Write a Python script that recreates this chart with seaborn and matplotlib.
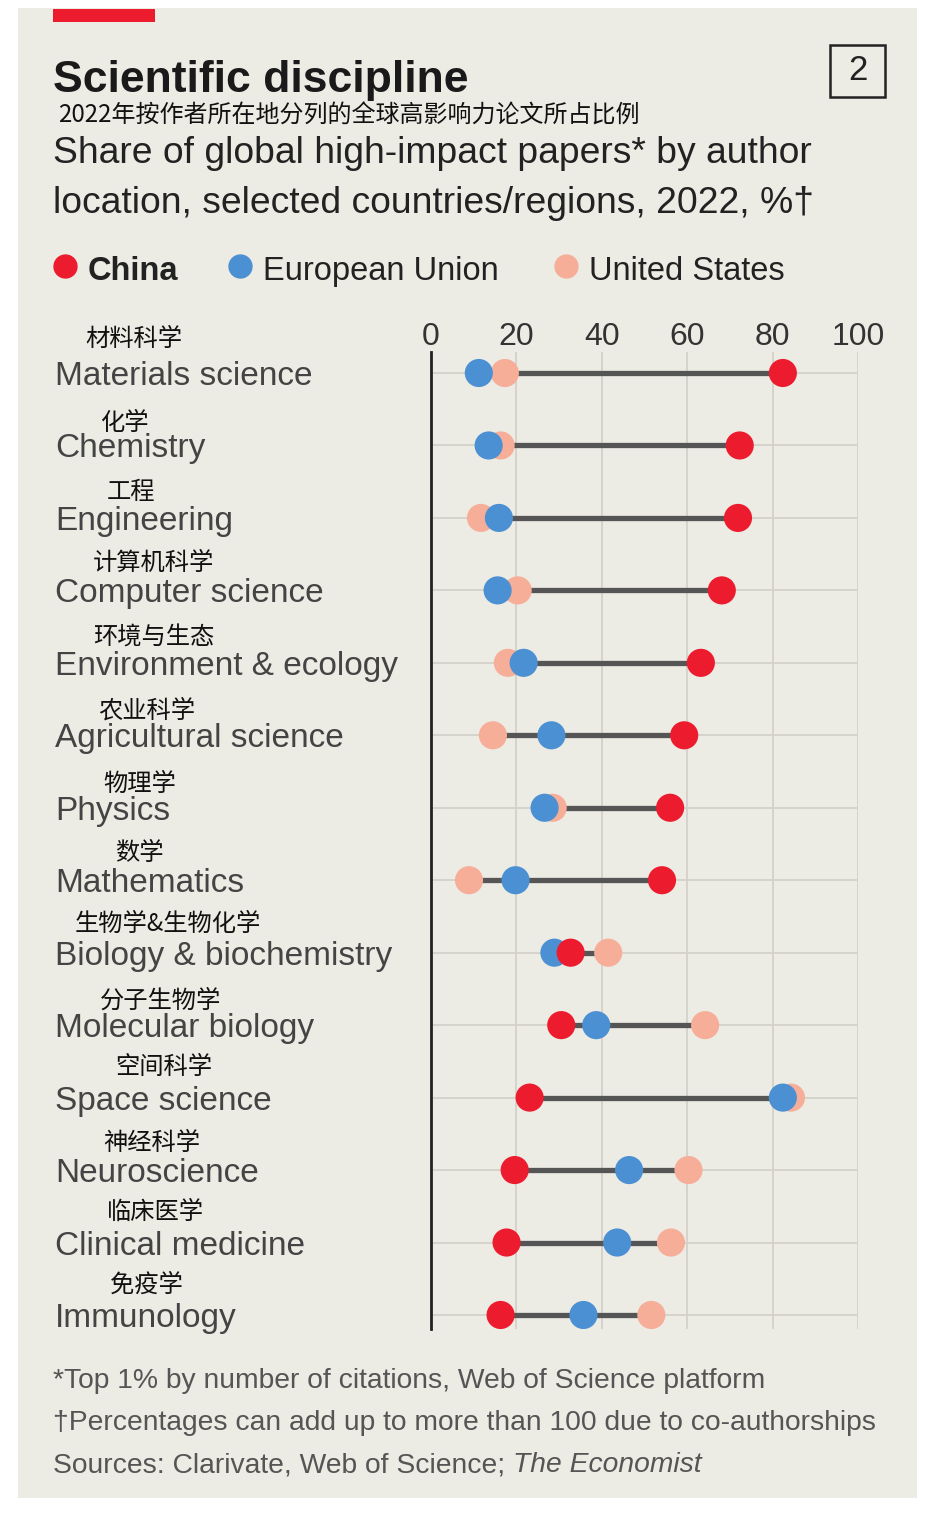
import numpy as np
import pandas as pd
import matplotlib
matplotlib.use("Agg")
import matplotlib.pyplot as plt
import matplotlib.transforms as mtrans
from matplotlib.patches import Rectangle
from matplotlib.lines import Line2D
import seaborn as sns

# ---------------- data ----------------
disciplines = ["Materials science", "Chemistry", "Engineering", "Computer science",
               "Environment & ecology", "Agricultural science", "Physics", "Mathematics",
               "Biology & biochemistry", "Molecular biology", "Space science",
               "Neuroscience", "Clinical medicine", "Immunology"]
disciplines_zh = ["材料科学", "化学", "工程", "计算机科学", "环境与生态", "农业科学", "物理学",
                  "数学", "生物学&生物化学", "分子生物学", "空间科学", "神经科学", "临床医学", "免疫学"]
china = [82.4, 72.3, 71.9, 68.1, 63.2, 59.3, 56.0, 54.1, 32.7, 30.5, 23.1, 19.6, 17.7, 16.3]
eu    = [11.2, 13.5, 15.9, 15.6, 21.7, 28.2, 26.6, 19.8, 28.9, 38.7, 82.4, 46.4, 43.6, 35.7]
us    = [17.3, 16.3, 11.7, 20.3, 18.0, 14.5, 28.5,  8.9, 41.5, 64.2, 84.3, 60.3, 56.2, 51.6]
regions = ["China", "European Union", "United States"]
xticks = [0, 20, 40, 60, 80, 100]

# ---------------- layout ----------------
W, H = 944, 1518
BG = "#ECEBE4"
RED, BLUE, PINK = "#EC1B2E", "#4A90D2", "#F6AE99"
zh_left_px = [85, 100, 107, 93, 93, 98, 103, 115, 75, 100, 115, 103, 107, 110]
zh_up_px = [34, 22, 26, 27, 25, 25, 24, 27, 29, 24, 31, 27, 31, 30]

sns.set_theme(style="white")
plt.rcParams["font.family"] = ["Liberation Sans", "Noto Sans CJK SC", "DejaVu Sans"]
CJK = ["Noto Sans CJK SC", "DejaVu Sans"]

fig = plt.figure(figsize=(W / 100, H / 100), dpi=100)
fig.patch.set_facecolor("white")

def fx(px):
    return px / W

def fy(py):
    return 1 - py / H

# panel background
fig.add_artist(Rectangle((fx(18), fy(1498)), fx(917) - fx(18), fy(8) - fy(1498),
                         transform=fig.transFigure, facecolor=BG, edgecolor="none", zorder=0))
# red tag
fig.add_artist(Rectangle((fx(53), fy(22)), fx(155) - fx(53), fy(9) - fy(22),
                         transform=fig.transFigure, facecolor=RED, edgecolor="none", zorder=1))

# ---------------- axes ----------------
ax_left, ax_right, ax_top, ax_bot = 431, 858, 352, 1329
ax = fig.add_axes([fx(ax_left), fy(ax_bot), fx(ax_right) - fx(ax_left), fy(ax_top) - fy(ax_bot)])
ax.patch.set_alpha(0)

n = len(disciplines)
rows = np.arange(n)
df = pd.DataFrame({
    "row": np.tile(rows, 3),
    "value": us + eu + china,
    "region": ["United States"] * n + ["European Union"] * n + ["China"] * n,
})

lo = np.minimum(np.minimum(china, eu), us)
hi = np.maximum(np.maximum(china, eu), us)
ax.hlines(rows, lo, hi, color="#555555", lw=3.8, zorder=2)

sns.scatterplot(data=df, x="value", y="row", hue="region",
                palette={"China": RED, "European Union": BLUE, "United States": PINK},
                s=410, linewidth=0, legend=False, ax=ax, zorder=3, clip_on=False)

ax.set_xlim(0, 100)
row_px0, row_step = 373, 72.46
ax.set_ylim((ax_bot - row_px0) / row_step, (ax_top - row_px0) / row_step)
ax.set_xticks(xticks)
ax.set_yticks(rows)
ax.set_yticklabels([])
ax.set_xlabel("")
ax.set_ylabel("")
ax.xaxis.tick_top()
ax.tick_params(axis="x", length=0, pad=0, labelsize=23, labelcolor="#333333")
ax.tick_params(axis="y", length=0)
ax.grid(True, color="#D3D1CA", lw=1.3, zorder=0)
for s in ["top", "right", "bottom"]:
    ax.spines[s].set_visible(False)
ax.spines["left"].set_color("#222222")
ax.spines["left"].set_linewidth(2.0)
ax.spines["left"].set_zorder(4)

# row labels
blend = mtrans.blended_transform_factory(fig.transFigure, ax.transData)
for i in rows:
    ax.text(fx(55), i, disciplines[i],
            transform=blend + mtrans.ScaledTranslation(0, -12 / 100, fig.dpi_scale_trans),
            fontsize=24, color="#444444", ha="left", va="baseline")
    ax.text(fx(zh_left_px[i]), i, disciplines_zh[i],
            transform=blend + mtrans.ScaledTranslation(0, zh_up_px[i] / 100, fig.dpi_scale_trans),
            fontsize=17.5, family=CJK, color="#111111", ha="left", va="center")

# ---------------- titles ----------------
fig.text(fx(53), fy(92), "Scientific discipline", fontsize=32, fontweight="bold",
         color="#1a1a1a", ha="left", va="baseline")
fig.text(fx(58), fy(116), "2022年按作者所在地分列的全球高影响力论文所占比例", fontsize=17.3,
         family=CJK, color="#111111", ha="left", va="center")
fig.text(fx(53), fy(163), "Share of global high-impact papers* by author", fontsize=26.8,
         color="#222222", ha="left", va="baseline")
fig.text(fx(53), fy(213), "location, selected countries/regions, 2022, %\u2020", fontsize=26.8,
         color="#222222", ha="left", va="baseline")

# box "2"
fig.add_artist(Rectangle((fx(830), fy(97)), fx(885) - fx(830), fy(45) - fy(97),
                         transform=fig.transFigure, facecolor="none", edgecolor="#222222", lw=1.8))
fig.text(fx(857.5), fy(71), "2", fontsize=25, color="#222222", ha="center", va="center")

# ---------------- legend ----------------
leg_items = [(65, 88, "China", RED, "bold"), (240, 263, "European Union", BLUE, "normal"),
             (566, 589, "United States", PINK, "normal")]
for dot_x, txt_x, lab, col, wt in leg_items:
    fig.add_artist(Line2D([fx(dot_x)], [fy(266)], marker="o", ms=16.5, color=col, lw=0,
                          transform=fig.transFigure))
    fig.text(fx(txt_x), fy(280), lab, fontsize=23.5, fontweight=wt, color="#222222",
             ha="left", va="baseline")

# ---------------- footnotes ----------------
FN = 20.3
fig.text(fx(53), fy(1388), "*Top 1% by number of citations, Web of Science platform",
         fontsize=FN, color="#555555", ha="left", va="baseline")
fig.text(fx(53), fy(1430), "\u2020Percentages can add up to more than 100 due to co-authorships",
         fontsize=FN, color="#555555", ha="left", va="baseline")
t_src = fig.text(fx(53), fy(1472), "Sources: Clarivate, Web of Science; ",
                 fontsize=FN, color="#555555", ha="left", va="baseline")
renderer = fig.canvas.get_renderer()
bb = t_src.get_window_extent(renderer=renderer)
fig.text(bb.x1 / W, fy(1472), "The Economist", fontsize=FN, style="italic",
         color="#555555", ha="left", va="baseline")

fig.savefig("out.png", dpi=100, facecolor="white")
